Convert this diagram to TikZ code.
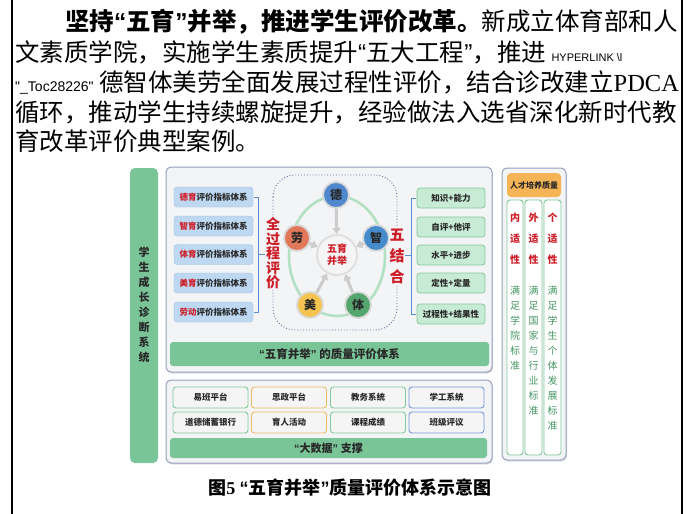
\documentclass[tikz,border=0pt]{standalone}
\usepackage{fontspec}
\setmainfont{Noto Sans CJK SC}
\newfontfamily\latinsans{Liberation Sans}
\newfontfamily\latinserif{Liberation Serif}
\newcommand\lqt{{\latinsans “}}
\newcommand\rqt{{\latinsans ”}}
\usetikzlibrary{arrows.meta,shadows}
\definecolor{gbar}{RGB}{122,197,152}
\definecolor{panelfill}{RGB}{243,244,246}
\definecolor{panelline}{RGB}{150,160,190}
\definecolor{dotline}{RGB}{95,110,160}
\definecolor{bluebox}{RGB}{190,216,242}
\definecolor{blueline}{RGB}{160,190,228}
\definecolor{greenbox}{RGB}{200,235,213}
\definecolor{greenline}{RGB}{130,200,155}
\definecolor{redt}{RGB}{205,30,40}
\definecolor{greent}{RGB}{70,150,100}
\definecolor{orangeh}{RGB}{245,180,85}
\definecolor{orangeline}{RGB}{240,185,100}
\definecolor{bluel}{RGB}{120,150,220}
\definecolor{bracec}{RGB}{90,140,210}
\definecolor{cde}{RGB}{80,135,205}
\definecolor{czhi}{RGB}{70,140,205}
\definecolor{cti}{RGB}{85,165,110}
\definecolor{cmei}{RGB}{245,195,80}
\definecolor{clao}{RGB}{225,120,90}
\definecolor{ringc}{RGB}{178,224,195}
\definecolor{darkt}{RGB}{40,40,40}
\tikzset{
  panel/.style={draw=panelline, fill=panelfill, rounded corners=5pt, line width=1pt,
    drop shadow={shadow xshift=1pt, shadow yshift=-1.5pt, fill=gray!50}},
  lbox/.style={draw=blueline, fill=bluebox, rounded corners=3pt, minimum width=79pt, minimum height=20pt, inner sep=0pt, font=\fontsize{8.5}{9}\selectfont\bfseries, text=darkt},
  rbox/.style={draw=greenline, fill=greenbox, rounded corners=3pt, line width=0.8pt, minimum width=68pt, minimum height=20pt, inner sep=0pt, font=\fontsize{8.5}{9}\selectfont\bfseries, text=darkt},
  dbox/.style={draw=#1, fill=gray!8, rounded corners=3pt, line width=0.9pt, minimum width=75pt, minimum height=21pt, inner sep=0pt, font=\fontsize{8.5}{9}\selectfont\bfseries, text=darkt},
  gbarbox/.style={fill=gbar, rounded corners=3pt, inner sep=0pt, text=darkt},
  petal/.style={circle, fill=#1, draw=gray!30, line width=1.8pt, minimum size=26pt, inner sep=0pt, font=\fontsize{12}{12}\selectfont\bfseries, text=darkt},
  feed/.style={draw=gray!40, line width=3pt, -{Triangle[length=6pt,width=8pt]}},
  vred/.style={text=redt, font=\bfseries, align=center, inner sep=1pt, fill=panelfill},
  para/.style={anchor=west, inner sep=0pt, font=\fontsize{24.5}{30}\selectfont, text=black},
  colbox/.style={draw=greenline, fill=white, rounded corners=3pt, line width=0.9pt},
}
\begin{document}
\begin{tikzpicture}[x=1pt,y=-1pt]
\useasboundingbox (0,0) rectangle (699,514);
\fill[white] (0,0) rectangle (699,514);
% page borders
\draw[line width=1.3pt] (12,0) coordinate (bl1) -- (12,514) coordinate (bl2);
\draw[line width=1.3pt] (682,0) coordinate (br1) -- (682,514) coordinate (br2);
% paragraph
\node[para] (p1) at (65,22) {\bfseries 坚持\lqt 五育\rqt 并举，推进学生评价改革。\mdseries 新成立体育部和人};
\node[para] (p2) at (15,52) {文素质学院，实施学生素质提升\lqt 五大工程\rqt ，推进 {\latinsans\fontsize{11}{11}\selectfont HYPERLINK \textbackslash l}};
\node[para] (p3) at (15,82) {{\latinsans\fontsize{14}{14}\selectfont "\_Toc28226"} 德智体美劳全面发展过程性评价，结合诊改建立{\latinserif PDCA}};
\node[para] (p4) at (15,112) {循环，推动学生持续螺旋提升，经验做法入选省深化新时代教};
\node[para] (p5) at (15,141) {育改革评价典型案例。};
% left column
\fill[gbar, rounded corners=5pt] (130,168) rectangle (158,463);
\node[align=center, inner sep=0pt, font=\fontsize{11}{15}\selectfont\bfseries, text=darkt] (lcol) at (144,304.5) {学\\生\\成\\长\\诊\\断\\系\\统};
% upper panel
\path[panel] (166,167) rectangle (492,372);
\draw[dotline, dotted, line width=0.9pt, rounded corners=22pt] (273,175) rectangle (397,330);
% left boxes
\node[lbox] (b1) at (213.5,197) {{\color{redt}德育}评价指标体系};
\node[lbox] (b2) at (213.5,226) {{\color{redt}智育}评价指标体系};
\node[lbox] (b3) at (213.5,254.5) {{\color{redt}体育}评价指标体系};
\node[lbox] (b4) at (213.5,283) {{\color{redt}美育}评价指标体系};
\node[lbox] (b5) at (213.5,312) {{\color{redt}劳动}评价指标体系};
\draw[bracec, line width=0.9pt] (b1.east) ++(1,0) -- ++(4,0) coordinate (lbt) -- (lbt |- b5.east) -- ++(-4,0);
\draw[bracec, line width=0.9pt] (lbt |- b3.east) coordinate (lbm) -- ++(7,0);
\node[vred, font=\fontsize{14}{14.5}\selectfont\bfseries] (qgc) at (273,253.5) {全\\过\\程\\评\\价};
% center graphic
\draw[ringc, line width=2.6pt] (337,256) ellipse [x radius=48, y radius=60];
\node[circle, fill=gray!8, draw=gray!25, line width=2pt, minimum size=40pt, inner sep=0pt, align=center, text=redt, font=\fontsize{10}{12}\selectfont\bfseries] (ctr) at (337,255) {五育\\并举};
\node[petal=cde] (de) at (336,195) {德};
\node[petal=czhi] (zhi) at (376,238) {智};
\node[petal=cti] (ti) at (358,305) {体};
\node[petal=cmei] (mei) at (310,305) {美};
\node[petal=clao] (lao) at (297,238) {劳};
\foreach \p in {de,zhi,ti,mei,lao} \draw[feed] (\p) -- (ctr);
\node[vred, font=\fontsize{15}{21}\selectfont\bfseries] (wjh) at (397,256.5) {五\\结\\合};
% right boxes
\node[rbox] (r1) at (451,198) {知识+能力};
\node[rbox] (r2) at (451,227) {自评+他评};
\node[rbox] (r3) at (451,255) {水平+进步};
\node[rbox] (r4) at (451,283) {定性+定量};
\node[rbox] (r5) at (451,314) {过程性+结果性};
\draw[bracec, line width=0.9pt] (r1.west) ++(-1,0) -- ++(-4,0) coordinate (rbt) -- (rbt |- r5.west) -- ++(4,0);
\draw[bracec, line width=0.9pt] (rbt |- r3.west) -- ++(-7,0);
% upper bar
\node[gbarbox, minimum width=319pt, minimum height=24pt, font=\fontsize{11.5}{12}\selectfont\bfseries] (ubar) at (329.5,354) {\lqt 五育并举\rqt\ 的质量评价体系};
% lower panel
\path[panel] (166,380) rectangle (492,463);
\node[dbox=greenline] (d11) at (210.5,397.5) {易班平台};
\node[dbox=greenline] (d12) at (210.5,422.5) {道德储蓄银行};
\node[dbox=orangeline] (d21) at (289,397.5) {思政平台};
\node[dbox=orangeline] (d22) at (289,422.5) {育人活动};
\node[dbox=greenline] (d31) at (368,397.5) {教务系统};
\node[dbox=greenline] (d32) at (368,422.5) {课程成绩};
\node[dbox=bluel] (d41) at (446.5,397.5) {学工系统};
\node[dbox=bluel] (d42) at (446.5,422.5) {班级评议};
\node[gbarbox, minimum width=317pt, minimum height=20pt, font=\fontsize{11}{12}\selectfont\bfseries] (lbar) at (328.5,448) {\lqt 大数据\rqt\ 支撑};
% right panel
\path[panel] (502,168) rectangle (566,460);
\node[fill=orangeh, rounded corners=4pt, minimum width=54pt, minimum height=24pt, inner sep=0pt, font=\fontsize{8}{8}\selectfont\bfseries, text=darkt] (hdr) at (534,185) {人才培养质量};
\draw[colbox] (507,200) rectangle (523,455);
\draw[colbox] (525,200) rectangle (542,455);
\draw[colbox] (544,200) rectangle (561,455);
\node[align=center, inner sep=0pt, text=redt, font=\fontsize{10}{21}\selectfont\bfseries] (c1r) at (515,239) {内\\适\\性};
\node[align=center, inner sep=0pt, text=redt, font=\fontsize{10}{21}\selectfont\bfseries] (c2r) at (533.5,239) {外\\适\\性};
\node[align=center, inner sep=0pt, text=redt, font=\fontsize{10}{21}\selectfont\bfseries] (c3r) at (552.5,239) {个\\适\\性};
\node[anchor=north, align=center, inner sep=0pt, text=greent, font=\fontsize{10}{15}\selectfont] (c1g) at (515,286) {满\\足\\学\\院\\标\\准};
\node[anchor=north, align=center, inner sep=0pt, text=greent, font=\fontsize{10}{15}\selectfont] (c2g) at (533.5,286) {满\\足\\国\\家\\与\\行\\业\\标\\准};
\node[anchor=north, align=center, inner sep=0pt, text=greent, font=\fontsize{10}{15}\selectfont] (c3g) at (552.5,286) {满\\足\\学\\生\\个\\体\\发\\展\\标\\准};
% caption
\node[inner sep=0pt, font=\fontsize{18}{18}\selectfont\bfseries] (cap) at (350,488) {图{\latinserif 5}\ \lqt 五育并举\rqt 质量评价体系示意图};
\end{tikzpicture}
\end{document}
